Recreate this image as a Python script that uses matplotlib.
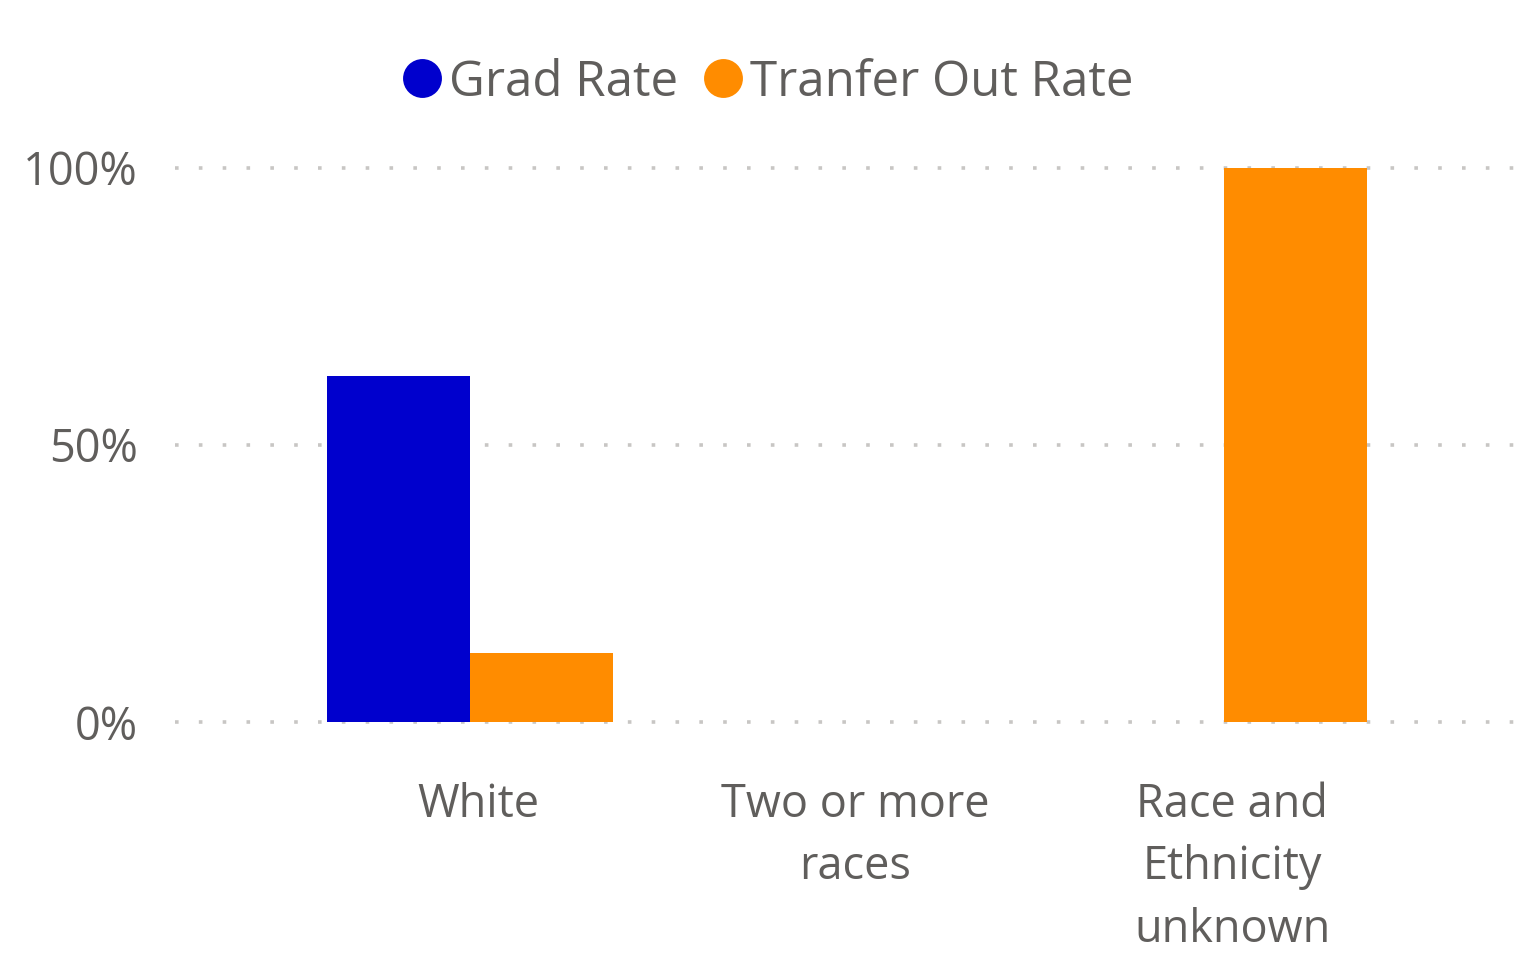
import matplotlib
matplotlib.use("Agg")
import matplotlib.pyplot as plt
from matplotlib.lines import Line2D
from matplotlib.transforms import ScaledTranslation
import numpy as np

categories = ["White", "Two or more\nraces", "Race and\nEthnicity\nunknown"]
grad_rate = [62.5, 0, 0]
transfer_out_rate = [12.5, 0, 100]
series_names = ["Grad Rate", "Tranfer Out Rate"]
y_ticks = [0, 50, 100]
y_tick_labels = ["0%", "50%", "100%"]

BLUE = "#0000CD"
ORANGE = "#FF8C00"
TEXT = "#605E5C"
GRID = "#C8C6C4"

plt.rcParams['font.family'] = ['Open Sans', 'DejaVu Sans']

W, H = 1536, 976
fig = plt.figure(figsize=(W / 100, H / 100), dpi=100)

# axes placement (pixels): x from 175 to 1526, y 0 -> 722, 100 -> 168
ext = 2.0  # extension in data units
ppu = (722 - 168) / 100.0
bottom_px = 722 + ext * ppu
top_px = 168 - ext * ppu
ax = fig.add_axes([175 / W, 1 - bottom_px / H, (1530 - 175) / W, (bottom_px - top_px) / H])

x = np.arange(len(categories))
w = 143 / 377
ax.bar(x - w / 2, grad_rate, width=w, color=BLUE, zorder=3, linewidth=0)
ax.bar(x + w / 2, transfer_out_rate, width=w, color=ORANGE, zorder=3, linewidth=0)

ax.set_xlim(-295 / 377, 2 + 306 / 377)
ax.set_ylim(-ext, 100 + ext)

for yv in y_ticks:
    ax.axhline(yv, color=GRID, linewidth=2.6, linestyle=(0, (1, 5.6)),
               dash_capstyle='butt', zorder=1)

ax.set_yticks(y_ticks)
ax.set_yticklabels(y_tick_labels)
ax.set_xticks(x)
ax.set_xticklabels(categories, linespacing=1.47)
ax.tick_params(axis='y', length=0, pad=27, labelsize=32.5, labelcolor=TEXT)
ax.tick_params(axis='x', length=0, pad=35, labelsize=32.5, labelcolor=TEXT)
off = ScaledTranslation(8 / 100, 0, fig.dpi_scale_trans)
for lbl in ax.get_xticklabels():
    lbl.set_transform(lbl.get_transform() + off)

for s in ax.spines.values():
    s.set_visible(False)

handles = [Line2D([], [], linestyle='none', marker='o', markersize=28,
                  markerfacecolor=c, markeredgewidth=0) for c in (BLUE, ORANGE)]
leg = fig.legend(handles, series_names, loc='center', bbox_to_anchor=(0.5, 1 - 83 / H),
                 ncol=2, frameon=False, fontsize=35.5, handlelength=0.8,
                 handletextpad=0.15, columnspacing=0.5, borderaxespad=0)
for t in leg.get_texts():
    t.set_color(TEXT)

fig.savefig("out.png", dpi=100)
